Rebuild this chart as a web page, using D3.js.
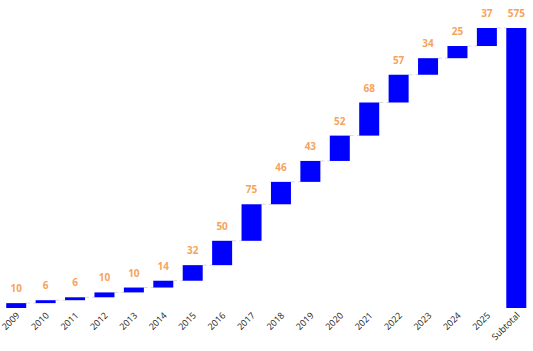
<!DOCTYPE html>
<html>
<head>
<meta charset="utf-8">
<script src="https://cdn.jsdelivr.net/npm/d3@7"></script>
<style>
  body { margin: 0; background: #fff; }
  text { font-family: "Open Sans", "Noto Sans", sans-serif; }
</style>
</head>
<body>
<div id="chart"></div>
<script>
const width = 533;
const height = 351;

const categories = ["2009", "2010", "2011", "2012", "2013", "2014", "2015", "2016", "2017",
    "2018", "2019", "2020", "2021", "2022", "2023", "2024", "2025", "Subtotal"];
const values = [10, 6, 6, 10, 10, 14, 32, 50, 75, 46, 43, 52, 68, 57, 34, 25, 37];
const totalLabel = "Subtotal";

// build running start/end for each step, then the subtotal bar
let running = 0;
const bars = values.map((v, i) => {
    const d = { name: categories[i], start: running, end: running + v, value: v };
    running += v;
    return d;
});
bars.push({ name: totalLabel, start: 0, end: running, value: running });

const svg = d3.select("#chart").append("svg")
    .attr("width", width)
    .attr("height", height);

const x = d3.scaleBand()
    .domain(categories)
    .range([1.5, 531])
    .paddingInner(0.32)
    .paddingOuter(0.16);

const y = d3.scaleLinear()
    .domain([0, 575])
    .range([308, 28]);

// dashed connectors between bars
svg.selectAll(".connector")
    .data(bars.slice(0, -1))
    .enter().append("line")
    .attr("x1", d => x(d.name) + x.bandwidth())
    .attr("x2", (d, i) => x(bars[i + 1].name))
    .attr("y1", d => y(d.end))
    .attr("y2", d => y(d.end))
    .attr("stroke", "#d9d9d9")
    .attr("stroke-width", 1)
    .attr("stroke-dasharray", "4,3");

svg.selectAll(".bar")
    .data(bars)
    .enter().append("rect")
    .attr("x", d => x(d.name))
    .attr("width", x.bandwidth())
    .attr("y", d => y(d.end))
    .attr("height", d => y(d.start) - y(d.end))
    .attr("fill", "#0000ff");

svg.selectAll(".val")
    .data(bars)
    .enter().append("text")
    .attr("x", d => x(d.name) + x.bandwidth() / 2)
    .attr("y", d => y(d.end) - 11)
    .attr("text-anchor", "middle")
    .attr("font-size", 10)
    .attr("font-weight", "bold")
    .attr("fill", "#f7a35c")
    .text(d => d.value);

svg.selectAll(".cat")
    .data(bars)
    .enter().append("text")
    .attr("text-anchor", "end")
    .attr("font-size", 9)
    .attr("fill", "#222")
    .attr("transform", d => `translate(${x(d.name) + x.bandwidth() / 2 + 4}, 316) rotate(-45)`)
    .text(d => d.name);
</script>
</body>
</html>
